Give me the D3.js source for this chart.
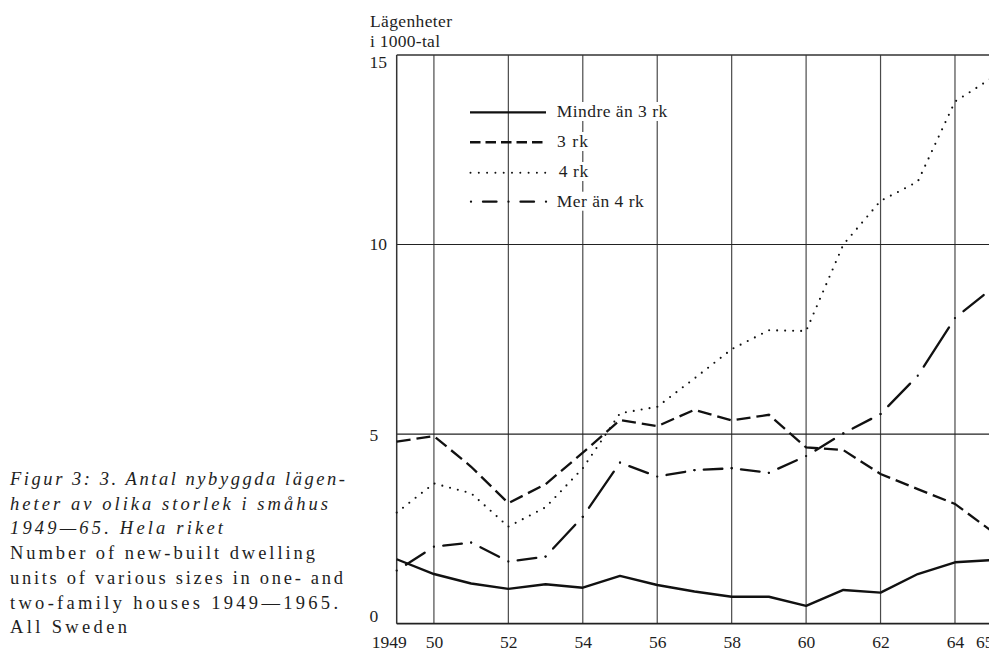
<!DOCTYPE html>
<html>
<head>
<meta charset="utf-8">
<script src="https://cdn.jsdelivr.net/npm/d3@7"></script>
<style>
  html, body { margin: 0; padding: 0; background: #fff; }
  svg { display: block; }
  svg text { font-family: "Liberation Serif", "Times New Roman", "DejaVu Serif", serif; fill: #1e1e1e; }
</style>
</head>
<body>
<svg id="chart" width="989" height="658" font-family="Liberation Serif, Times New Roman, serif"></svg>
<script>
// Nybyggda lägenheter i småhus efter storlek, 1000-tal
const years = [1949, 1950, 1951, 1952, 1953, 1954, 1955, 1956, 1957,
               1958, 1959, 1960, 1961, 1962, 1963, 1964, 1965];
const mindreAn3rk = [1.70, 1.31, 1.06, 0.92, 1.04, 0.95, 1.26, 1.02, 0.85,
                     0.71, 0.71, 0.47, 0.89, 0.82, 1.31, 1.62, 1.68];
const rk3 = [4.80, 4.95, 4.14, 3.18, 3.68, 4.51, 5.37, 5.21, 5.64,
             5.36, 5.51, 4.65, 4.58, 3.95, 3.55, 3.16, 2.43];
const rk4 = [2.93, 3.70, 3.44, 2.56, 3.07, 4.10, 5.55, 5.72, 6.47,
             7.24, 7.74, 7.72, 10.00, 11.15, 11.66, 13.77, 14.40];
const merAn4rk = [1.40, 2.03, 2.14, 1.64, 1.77, 2.82, 4.25, 3.88, 4.05,
                  4.10, 3.98, 4.42, 5.02, 5.53, 6.54, 8.06, 8.85];

const seriesNames = ["Mindre än 3 rk", "3 rk", "4 rk", "Mer än 4 rk"];
const xTickYears = [1949, 1950, 1952, 1954, 1956, 1958, 1960, 1962, 1964, 1965];
const xTickLabels = ["1949", "50", "52", "54", "56", "58", "60", "62", "64", "65"];
const gridYears = [1950, 1952, 1954, 1956, 1958, 1960, 1962, 1964];
const yTicks = [0, 5, 10, 15];
const yTickLabels = ["0", "5", "10", "15"];
const yGrid = [5, 10];
const axisTitle = ["Lägenheter", "i 1000-tal"];
const captionItalic = ["Figur 3: 3. Antal nybyggda lägen-",
                       "heter av olika storlek i småhus",
                       "1949—65. Hela riket"];
const captionRoman = ["Number of new-built dwelling",
                      "units of various sizes in one- and",
                      "two-family houses 1949—1965.",
                      "All Sweden"];

const SERIF = '"Liberation Serif", "Times New Roman", serif';
const W = 989, H = 658;
const svg = d3.select("#chart");

const x = d3.scaleLinear().domain([1949, 1965]).range([396.7, 992.2]);
const y = d3.scaleLinear().domain([0, 15]).range([623.7, 55]);

// ---- grid and frame ----
const grid = svg.append("g");
grid.selectAll("line.v").data(gridYears).join("line")
  .attr("class", "v")
  .attr("x1", d => x(d)).attr("x2", d => x(d))
  .attr("y1", y(15)).attr("y2", y(0))
  .attr("stroke", "#4a4a4a").attr("stroke-width", 1.2);
grid.selectAll("line.h").data(yGrid).join("line")
  .attr("class", "h")
  .attr("x1", x(1949)).attr("x2", W)
  .attr("y1", d => y(d)).attr("y2", d => y(d))
  .attr("stroke", "#222").attr("stroke-width", 1.1);
// top edge at 15, left axis and base line
grid.append("line").attr("x1", x(1949)).attr("x2", W)
  .attr("y1", y(15)).attr("y2", y(15)).attr("stroke", "#333").attr("stroke-width", 1.5);
grid.append("line").attr("x1", x(1949)).attr("x2", x(1949))
  .attr("y1", y(15)).attr("y2", y(0)).attr("stroke", "#333").attr("stroke-width", 1.5);
grid.append("line").attr("x1", x(1949)).attr("x2", W)
  .attr("y1", y(0)).attr("y2", y(0)).attr("stroke", "#222").attr("stroke-width", 1.8);

// ---- axes ----
const xAxis = d3.axisBottom(x)
  .tickValues(xTickYears)
  .tickFormat((d, i) => xTickLabels[i])
  .tickSize(0);
const gx = svg.append("g").attr("transform", `translate(0,${y(0)})`).call(xAxis);
gx.attr("font-family", null).attr("font-size", null);
gx.select(".domain").remove();
gx.selectAll("text")
  .attr("y", 648 - y(0)).attr("dy", 0)
  .attr("dx", (d, i) => (i === 0 || i === xTickYears.length - 1) ? -8 : 0)
  .style("font-family", SERIF)
  .style("font-size", "17.5px").style("fill", "#1e1e1e");

const yLabelShift = { 0: -8, 5: 0, 10: -1.3, 15: 6.7 };
const yAxis = d3.axisLeft(y)
  .tickValues(yTicks)
  .tickFormat((d, i) => yTickLabels[i])
  .tickSize(0);
const gy = svg.append("g").attr("transform", `translate(${x(1949)},0)`).call(yAxis);
gy.attr("font-family", null).attr("font-size", null);
gy.select(".domain").remove();
gy.selectAll("text")
  .attr("x", 369.5 - x(1949))
  .attr("text-anchor", "start")
  .attr("dy", "0.34em")
  .attr("y", d => yLabelShift[d])
  .style("font-family", SERIF)
  .style("font-size", "17.5px").style("fill", "#1e1e1e");

// axis title
svg.append("text").attr("x", 370).attr("y", 26.7)
  .style("font-family", SERIF).attr("font-size", 17.5)
  .attr("textLength", 82).attr("lengthAdjust", "spacing")
  .text(axisTitle[0]);
svg.append("text").attr("x", 370).attr("y", 46.7)
  .style("font-family", SERIF).attr("font-size", 17.5)
  .attr("textLength", 70).attr("lengthAdjust", "spacing")
  .text(axisTitle[1]);

// ---- legend ----
const legend = svg.append("g");
const legendRows = [
  { name: seriesNames[0], ly: 112.3, ty: 117, tx: 556.7, tl: 110.5 },
  { name: seriesNames[1], ly: 142.3, ty: 147, tx: 557, tl: 31 },
  { name: seriesNames[2], ly: 172.7, ty: 177, tx: 558.7, tl: 29.5 },
  { name: seriesNames[3], ly: 201.7, ty: 206.7, tx: 556.7, tl: 87 }
];
const legendTexts = legend.selectAll("text").data(legendRows).join("text")
  .attr("x", d => d.tx).attr("y", d => d.ty)
  .style("font-family", SERIF).attr("font-size", 17.5)
  .attr("textLength", d => d.tl).attr("lengthAdjust", "spacing")
  .text(d => d.name);
// white ground behind the legend labels
legendTexts.each(function () {
  const b = this.getBBox();
  legend.insert("rect", "text")
    .attr("x", b.x - 2).attr("y", b.y + 1)
    .attr("width", b.width + 4).attr("height", b.height - 1)
    .attr("fill", "#fff");
});
const lx0 = 470, lx1 = 546;
legend.append("line").attr("x1", lx0).attr("x2", lx1)
  .attr("y1", legendRows[0].ly).attr("y2", legendRows[0].ly)
  .attr("stroke", "#111").attr("stroke-width", 2.3);
legend.append("line").attr("x1", lx0).attr("x2", lx1 - 3)
  .attr("y1", legendRows[1].ly).attr("y2", legendRows[1].ly)
  .attr("stroke", "#111").attr("stroke-width", 2.4)
  .attr("stroke-dasharray", "10.5 5");
legend.append("line").attr("x1", lx0 + 0.5).attr("x2", lx1)
  .attr("y1", legendRows[2].ly).attr("y2", legendRows[2].ly)
  .attr("stroke", "#111").attr("stroke-width", 2)
  .attr("stroke-linecap", "round").attr("stroke-dasharray", "0 8.3");
legend.append("line").attr("x1", 471).attr("x2", 546.5)
  .attr("y1", legendRows[3].ly).attr("y2", legendRows[3].ly)
  .attr("stroke", "#111").attr("stroke-width", 2.3)
  .attr("stroke-linecap", "round").attr("stroke-dasharray", "0 12 13.5 12");

// ---- series ----
const plot = svg.append("g");
const line = d3.line().x(d => x(d[0])).y(d => y(d[1]));
const pairs = vals => years.map((yr, i) => [yr, vals[i]]);

plot.append("path").attr("d", line(pairs(mindreAn3rk)))
  .attr("fill", "none").attr("stroke", "#111").attr("stroke-width", 2.4)
  .attr("stroke-linejoin", "round");
plot.append("path").attr("d", line(pairs(rk3)))
  .attr("fill", "none").attr("stroke", "#111").attr("stroke-width", 2.3)
  .attr("stroke-dasharray", "14 6");
plot.append("path").attr("d", line(pairs(rk4)))
  .attr("fill", "none").attr("stroke", "#111").attr("stroke-width", 2.1)
  .attr("stroke-linecap", "round").attr("stroke-dasharray", "0 8");

// dash-dot: each segment runs dot, gap, dash, gap so a dot falls on every year
const mer = pairs(merAn4rk);
for (let i = 0; i < mer.length - 1; i++) {
  const a = mer[i], b = mer[i + 1];
  const len = Math.hypot(x(b[0]) - x(a[0]), y(b[1]) - y(a[1]));
  const gap = Math.min(11, len / 4);
  const dash = Math.max(len - 2 * gap, 1);
  plot.append("path").attr("d", line([a, b]))
    .attr("fill", "none").attr("stroke", "#111").attr("stroke-width", 2.3)
    .attr("stroke-linecap", "round")
    .attr("stroke-dasharray", `0 ${gap} ${dash} ${gap}`);
}

// ---- caption ----
const cap = svg.append("g");
const capX = 10;
const italicLens = [335, 318, 213];
const romanLens = [305, 333, 328, 117];
cap.selectAll("text.it").data(captionItalic).join("text")
  .attr("class", "it")
  .attr("x", capX).attr("y", (d, i) => 485 + i * 24.6)
  .style("font-family", SERIF).attr("font-size", 18.5).attr("font-style", "italic")
  .attr("textLength", (d, i) => italicLens[i]).attr("lengthAdjust", "spacing")
  .text(d => d);
cap.selectAll("text.ro").data(captionRoman).join("text")
  .attr("class", "ro")
  .attr("x", capX).attr("y", (d, i) => 559.3 + i * 24.6)
  .style("font-family", SERIF).attr("font-size", 18.5)
  .attr("textLength", (d, i) => romanLens[i]).attr("lengthAdjust", "spacing")
  .text(d => d);
</script>
</body>
</html>
